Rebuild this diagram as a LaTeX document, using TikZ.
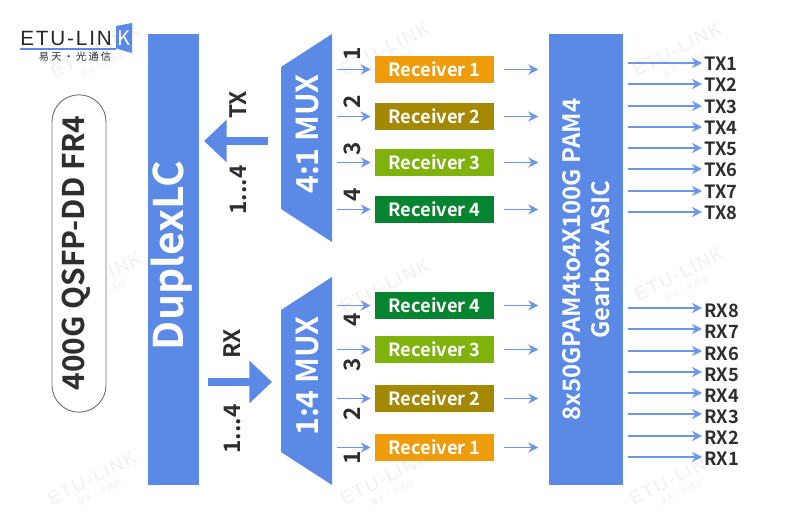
\documentclass[tikz,border=0pt]{standalone}
\usepackage{fontspec}
\setmainfont{Noto Sans CJK SC}[BoldFont={* Bold}]
\newfontfamily\logofont[LetterSpace=9]{Liberation Sans}
\usetikzlibrary{arrows.meta, positioning}
\definecolor{etublue}{HTML}{5B8AE6}
\definecolor{lineblue}{HTML}{6A96EC}
\definecolor{darktext}{HTML}{2E2E2E}
\definecolor{recvone}{HTML}{EF9C0B}
\definecolor{recvtwo}{HTML}{A48800}
\definecolor{recvthree}{HTML}{80B20C}
\definecolor{recvfour}{HTML}{07842F}
\definecolor{markgray}{HTML}{F0F0F0}
\tikzset{
  block/.style={fill=etublue, inner sep=0pt},
  recv/.style={text=white, font=\fontsize{13.7}{14}\selectfont\bfseries, minimum width=89.25pt, minimum height=20.25pt, inner sep=0pt},
  arrow/.style={-{Stealth[length=7.5pt,width=7.5pt,inset=2.5pt]}, lineblue, line width=1.15pt},
  bigarrow/.style={etublue, line width=6.6pt, -{Triangle[length=17pt,width=31pt]}},
  lab/.style={text=darktext, font=\fontsize{13.7}{14}\selectfont\bfseries, inner sep=0pt},
  num/.style={text=darktext, font=\fontsize{17}{18}\selectfont\bfseries, rotate=90, inner sep=0pt},
  wmark/.style={text=markgray, font=\fontsize{14}{9}\selectfont, align=center, rotate=27, inner sep=0pt}
}
\begin{document}
\begin{tikzpicture}[x=0.75pt, y=-0.75pt]
    \useasboundingbox (0,0) rectangle (800,513);

    % Watermarks
    \foreach \i/\mx/\my in {a/98/57, b/100/285, c/95/484, d/388/55, e/388/292, f/388/484, g/680/55, h/682/280, j/677/484}
      \node [wmark] (wm\i) at (\mx,\my) {\logofont ETU-LINK\\[1pt]\fontsize{6}{7}\selectfont 易天·光通信};

    % Logo
    \fill [etublue] (116,26) -- (132,23) -- (132,53) -- (116,48.5) -- cycle;
    \draw [etublue, line width=0.9pt] (20,49) -- (116,49);
    \node [text=black!85, font=\fontsize{15.5}{16}\selectfont\logofont, anchor=west, inner sep=0pt] (logo) at (20,38) {ETU-LIN};
    \node [text=white, font=\fontsize{15}{16}\selectfont, inner sep=0pt] (logok) at (124,38) {K};
    \node [text=black!85, font=\fontsize{7.6}{8}\selectfont, inner sep=0pt] (logocn) at (75,57) {易 天 · 光 通 信};

    % Place the blocks
    \node [draw=black!55, fill=white, rounded corners=20.2pt, minimum width=40.5pt, minimum height=238pt, inner sep=0pt, line width=0.7pt] (title) at (79,253.5) {};
    \node [rotate=90, text=darktext, font=\fontsize{22.4}{24}\selectfont\bfseries, inner sep=0pt] (titletext) at (76,253) {400G QSFP-DD FR4};
    \node [block, minimum width=38.25pt, minimum height=338.25pt] (duplex) at (173.5,259.5) {};
    \node [rotate=90, text=white, font=\fontsize{30.6}{32}\selectfont\bfseries, inner sep=0pt] (duplextext) at (172,255.5) {DuplexLC};
    \node [block, minimum width=55.5pt, minimum height=338.25pt] (asic) at (586,259.5) {};
    \node [rotate=90, text=white, font=\fontsize{18}{21.5}\selectfont\bfseries, align=center, inner sep=0pt] (asictext) at (asic) {8x50GPAM4to4X100G PAM4\\Gearbox ASIC};

    \fill [etublue] (281,67) -- (332,34) -- (332,242) -- (281,209) -- cycle;
    \fill [etublue] (281,310) -- (332,277) -- (332,485) -- (281,452) -- cycle;
    \node [rotate=90, text=white, font=\fontsize{22.7}{24}\selectfont\bfseries, inner sep=0pt] (muxtx) at (307,134) {4:1 MUX};
    \node [rotate=90, text=white, font=\fontsize{22.7}{24}\selectfont\bfseries, inner sep=0pt] (muxrx) at (307,376) {1:4 MUX};

    % Big arrows
    \coordinate (txstart) at (268,141);
    \coordinate (txend) at (204,141);
    \coordinate (rxstart) at (208,382);
    \coordinate (rxend) at (272,382);
    \draw [bigarrow] (txstart) -- (txend);
    \draw [bigarrow] (rxstart) -- (rxend);
    \node [num] (txname) at (238,105) {TX};
    \node [num] (txrange) at (238,190) {1...4};
    \node [num] (rxname) at (232,344) {RX};
    \node [num] (rxrange) at (232,429) {1...4};

    % Receivers, upper and lower
    \foreach \n/\lbl/\c/\y in {a/1/recvone/69.5, b/2/recvtwo/116.5, c/3/recvthree/162.5, d/4/recvfour/209.5,
                               e/4/recvfour/305.5, f/3/recvthree/349.5, g/2/recvtwo/398.5, h/1/recvone/447.5} {
      \node [recv, fill=\c] (r\n) at (434.5,\y) {Receiver \lbl};
      \coordinate [left=28.5pt of r\n.west] (in\n);
      \coordinate [left=3pt of r\n.west] (to\n);
      \coordinate [right=7.5pt of r\n.east] (o\n);
      \coordinate [right=33pt of r\n.east] (e\n);
      \draw [arrow] (in\n) -- (to\n);
      \draw [arrow] (o\n) -- (e\n);
    }
    \foreach \n/\lbl/\y in {a/1/54, b/2/101.5, c/3/148.5, d/4/195, e/4/319.5, f/3/364.5, g/2/413.5, h/1/458}
      \node [num] (n\n) at (352,\y) {\lbl};

    % Outputs
    \foreach \name/\y/\dy in {TX1/63/1, TX2/84/1, TX3/106/1, TX4/127/1, TX5/148/1, TX6/169/1, TX7/191/1, TX8/212/1,
                          RX8/308/2.5, RX7/329/2.5, RX6/351/2.5, RX5/372/2.5, RX4/393/2.5, RX3/414/2.5, RX2/436/2, RX1/457/2} {
      \node [lab, anchor=west] (\name) at (704,\y+\dy) {\name};
      \coordinate (s\name) at (628,\y);
      \coordinate (e\name) at (702,\y);
      \draw [arrow] (s\name) -- (e\name);
    }
  \end{tikzpicture}
\end{document}
